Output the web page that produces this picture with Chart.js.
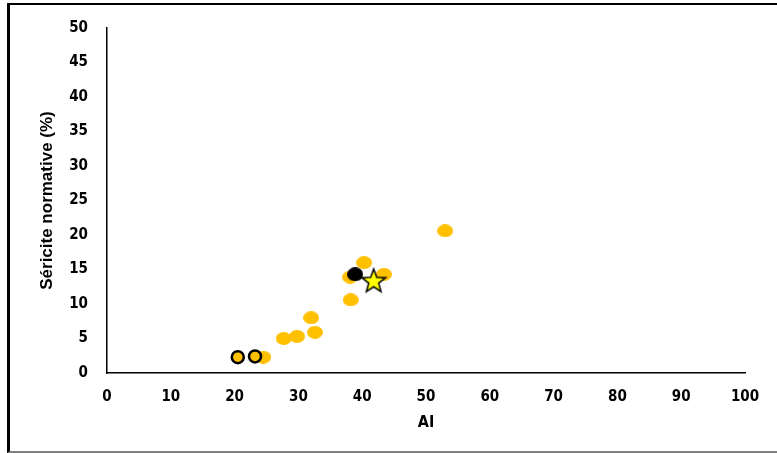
<!DOCTYPE html>
<html>
<head>
<meta charset="utf-8">
<script src="https://cdn.jsdelivr.net/npm/chart.js@4"></script>
<style>
  body { margin: 0; background: #fff; }
  #wrap { position: relative; width: 777px; height: 453px; }
  #frame {
    position: absolute; left: 7px; top: 3px; width: 770px; height: 446px;
    border-top: 2px solid #000; border-left: 3px solid #000; border-bottom: 2px solid #808080;
    pointer-events: none;
  }
</style>
</head>
<body>
<div id="wrap">
  <canvas id="scatter" width="777" height="453"></canvas>
  <div id="frame"></div>
</div>
<script>
// samples (AI vs normative sericite)
var aiSamples = [53.0, 40.3, 38.1, 43.4, 38.2, 32.0, 32.6, 29.8, 27.7, 24.5];
var serSamples = [20.6, 16.0, 13.9, 14.3, 10.6, 8.0, 5.9, 5.3, 5.0, 2.3];

// open circles
var aiOpen = [20.5, 23.2];
var serOpen = [2.3, 2.4];

// black dot
var aiBlack = [38.9];
var serBlack = [14.3];

// star
var aiStar = [41.8];
var serStar = [13.4];

var xTicks = [0, 10, 20, 30, 40, 50, 60, 70, 80, 90, 100];
var yTicks = [0, 5, 10, 15, 20, 25, 30, 35, 40, 45, 50];

function toPoints(xs, ys) {
    return xs.map(function (x, i) { return { x: x, y: ys[i] }; });
}

// ellipse marker, a bit wider than tall
function ellipseMarker(w, h, fill) {
    var c = document.createElement('canvas');
    c.width = w; c.height = h;
    var g = c.getContext('2d');
    g.fillStyle = fill;
    g.beginPath();
    g.ellipse(w / 2, h / 2, w / 2, h / 2, 0, 0, Math.PI * 2);
    g.fill();
    return c;
}

function starMarker(size) {
    var c = document.createElement('canvas');
    c.width = size; c.height = size;
    var g = c.getContext('2d');
    var cx = size / 2, cy = size / 2 + 1, R = size / 2 - 1.5, r = R * 0.42;
    g.beginPath();
    for (var i = 0; i < 10; i++) {
        var rad = i % 2 === 0 ? R : r;
        var a = -Math.PI / 2 + i * Math.PI / 5;
        g.lineTo(cx + rad * Math.cos(a), cy + rad * Math.sin(a));
    }
    g.closePath();
    g.fillStyle = '#FFFF00';
    g.fill();
    g.lineWidth = 1.5;
    g.strokeStyle = '#000';
    g.stroke();
    return c;
}

var tickFont = { family: "'DejaVu Sans Condensed', 'DejaVu Sans'", size: 15, weight: 'bold' };

var ctx = document.getElementById('scatter').getContext('2d');
var chart = new Chart(ctx, {
    type: 'scatter',
    data: {
        datasets: [{
            label: 'Star',
            data: toPoints(aiStar, serStar),
            pointStyle: starMarker(28)
        }, {
            label: 'Black',
            data: toPoints(aiBlack, serBlack),
            pointStyle: ellipseMarker(16, 14, '#000')
        }, {
            label: 'Open',
            data: toPoints(aiOpen, serOpen),
            backgroundColor: '#FFC000',
            borderColor: '#000',
            borderWidth: 2.5,
            pointRadius: 6
        }, {
            label: 'Samples',
            data: toPoints(aiSamples, serSamples),
            pointStyle: ellipseMarker(16, 13, '#FFC000')
        }]
    },
    options: {
        responsive: false,
        animation: false,
        layout: { padding: { left: 0, top: 23, right: 32, bottom: 0 } },
        plugins: { legend: { display: false }, tooltip: { enabled: false } },
        scales: {
            x: {
                type: 'linear',
                min: 0, max: 100,
                afterBuildTicks: function (s) { s.ticks = xTicks.map(function (v) { return { value: v }; }); },
                afterFit: function (s) { s.height = 80; },
                grid: { display: false, drawTicks: false },
                border: { display: true, color: '#000', width: 1.5 },
                ticks: { color: '#000', font: tickFont, padding: 15, maxRotation: 0 },
                title: {
                    display: true, text: 'AI', color: '#000',
                    font: { family: "'DejaVu Sans Condensed', 'DejaVu Sans'", size: 16, weight: 'bold' },
                    padding: { top: 0, bottom: 21 }
                }
            },
            y: {
                type: 'linear',
                min: 0, max: 50,
                afterBuildTicks: function (s) { s.ticks = yTicks.map(function (v) { return { value: v }; }); },
                afterFit: function (s) { s.width = 107; },
                grid: { display: false, drawTicks: false },
                border: { display: true, color: '#000', width: 1.5 },
                ticks: { color: '#000', font: tickFont, padding: 19 },
                title: {
                    display: true, text: 'Séricite normative (%)', color: '#000',
                    font: { family: 'Liberation Sans', size: 17, weight: 'bold' },
                    padding: { top: 37, bottom: 0 }
                }
            }
        }
    }
});
</script>
</body>
</html>
